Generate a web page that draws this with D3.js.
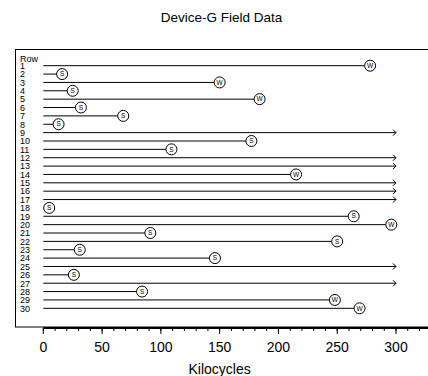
<!DOCTYPE html>
<html><head><meta charset="utf-8">
<script src="https://cdn.jsdelivr.net/npm/d3@7"></script>
<style>body{margin:0;background:#fff;}svg{display:block;font-family:"Liberation Sans",Arial,sans-serif;}</style>
</head><body>
<script>
const rows = d3.range(1, 31);
const values = [278,16,150,25,184,32,68,13,300,177,109,300,300,215,300,300,300,5,264,296,91,250,31,146,300,26,300,84,248,269];
const status = ["W","S","W","S","W","S","S","S",">","S","S",">",">","W",">",">",">","S","S","W","S","S","S","S",">","S",">","S","W","W"];
const xTicks = [0,50,100,150,200,250,300];

const W = 428, H = 376;
const svg = d3.select("body").append("svg").attr("width", W).attr("height", H);

const x = d3.scaleLinear().domain([0, 300]).range([43.3, 396]);
const y = d3.scaleLinear().domain([1, 30]).range([65.7, 308.3]);

svg.append("text").attr("x", 221.5).attr("y", 21.5).attr("text-anchor", "middle")
  .attr("font-size", 13.5).attr("fill", "#000").text("Device-G Field Data");

// box
svg.append("rect").attr("x", 15.5).attr("y", 49.5).attr("width", 430).attr("height", 277.5)
  .attr("fill", "none").attr("stroke", "#000").attr("stroke-width", 1);

svg.append("text").attr("x", 20).attr("y", 61.5).attr("font-size", 9).attr("fill", "#000").text("Row");

const g = svg.append("g");
rows.forEach((r, i) => {
  const yy = y(r);
  g.append("text").attr("x", 20).attr("y", yy + 3.3).attr("font-size", 9).attr("fill", "#000").text(r);
  const v = values[i], s = status[i];
  const xEnd = s === ">" ? x(v) : x(v) - 5.5;
  g.append("line").attr("x1", x(0)).attr("x2", xEnd).attr("y1", yy).attr("y2", yy)
    .attr("stroke", "#000").attr("stroke-width", 1);
  if (s === ">") {
    g.append("path").attr("d", `M${x(v)-3},${yy-3}L${x(v)},${yy}L${x(v)-3},${yy+3}`)
      .attr("fill", "none").attr("stroke", "#000").attr("stroke-width", 1);
  } else {
    g.append("circle").attr("cx", x(v)).attr("cy", yy).attr("r", 5.5)
      .attr("fill", "#fff").attr("stroke", "#000").attr("stroke-width", 1);
    g.append("text").attr("x", x(v)).attr("y", yy + 2.2).attr("text-anchor", "middle")
      .attr("font-size", 6.5).attr("fill", "#000").text(s);
  }
});

// axis
const ax = svg.append("g").attr("transform", "translate(0,328)");
ax.append("line").attr("x1", x(0)).attr("x2", W).attr("y1", 0).attr("y2", 0)
  .attr("stroke", "#000").attr("stroke-width", 2);
ax.selectAll(".minor").data(d3.range(0, 330, 10)).join("line")
  .attr("x1", d => x(d)).attr("x2", d => x(d)).attr("y1", 0).attr("y2", 3)
  .attr("stroke", "#000").attr("stroke-width", 1);
ax.selectAll(".major").data(xTicks).join("line")
  .attr("x1", d => x(d)).attr("x2", d => x(d)).attr("y1", 0).attr("y2", 6)
  .attr("stroke", "#000").attr("stroke-width", 1);
ax.selectAll(".lbl").data(xTicks).join("text")
  .attr("x", d => x(d)).attr("y", 24).attr("text-anchor", "middle")
  .attr("font-size", 14).attr("fill", "#000").text(d => d);

svg.append("text").attr("x", x(150)).attr("y", 374).attr("text-anchor", "middle")
  .attr("font-size", 14).attr("fill", "#000").text("Kilocycles");
</script>
</body></html>
